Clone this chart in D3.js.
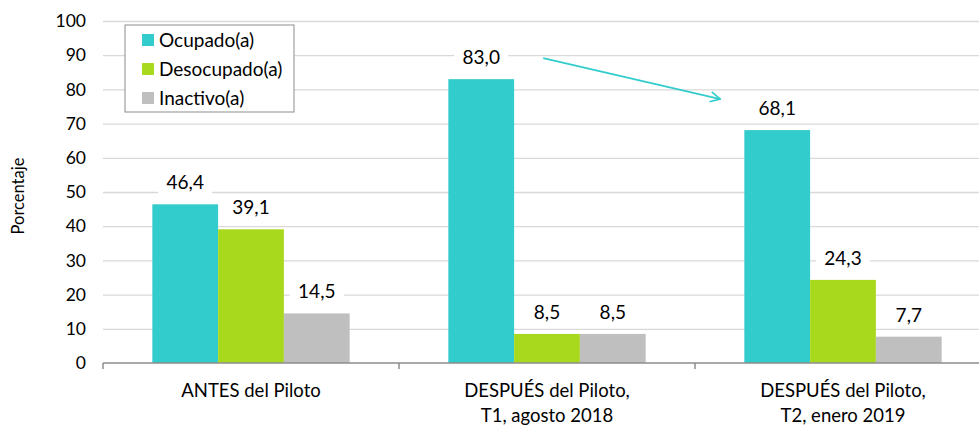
<!DOCTYPE html>
<html lang="es">
<head>
<meta charset="UTF-8">
<title>Situación laboral antes y después del Piloto</title>
<script src="https://d3js.org/d3.v7.min.js"></script>
<style>
  body { margin: 0; padding: 0; background: #fff; font-family: Lato, 'Open Sans', sans-serif; }
  svg { display: block; }
  .grid line { stroke: #d9d9d9; stroke-width: 1.3; }
  .grid .domain { display: none; }
  .axis text { fill: #000; font-size: 17.5px; }
</style>
</head>
<body>
<script>
  const categories = [
    ["ANTES del Piloto"],
    ["DESPUÉS del Piloto,", "T1, agosto 2018"],
    ["DESPUÉS del Piloto,", "T2, enero 2019"]
  ];
  const seriesNames = ["Ocupado(a)", "Desocupado(a)", "Inactivo(a)"];
  const ocupado = [46.4, 83.0, 68.1];
  const desocupado = [39.1, 8.5, 24.3];
  const inactivo = [14.5, 8.5, 7.7];
  const yTicks = [0, 10, 20, 30, 40, 50, 60, 70, 80, 90, 100];
  const colors = ["#33cccc", "#a8d91c", "#bfbfbf"];

  const W = 979, H = 425;
  const margin = { left: 103, top: 21, bottom: 62 };
  const bandW = 296;
  const plotRight = margin.left + bandW * categories.length;

  const svg = d3.select("body").append("svg").attr("width", W).attr("height", H);

  const x = d3.scaleBand().domain(d3.range(categories.length))
    .range([margin.left, plotRight]).padding(0);
  const y = d3.scaleLinear().domain([0, 100]).range([H - margin.bottom, margin.top]);

  // gridlines
  svg.append("g").attr("class", "grid")
    .attr("transform", `translate(${margin.left},0)`)
    .call(d3.axisLeft(y).tickValues(yTicks.slice(1)).tickSize(-(W - margin.left)).tickFormat(""));

  // y tick labels
  svg.append("g").attr("class", "axis")
    .selectAll("text").data(yTicks).join("text")
    .attr("x", 86).attr("y", d => y(d)).attr("dy", "0.35em")
    .attr("text-anchor", "end").text(d => d);

  const values = [ocupado, desocupado, inactivo];
  const rows = [];
  categories.forEach((c, i) => values.forEach((v, s) => rows.push({ cat: i, s, v: v[i] })));

  const bw = bandW / 4.5; // 3 bars, gap 150%
  const barX = d => x(d.cat) + bandW / 2 - 1.5 * bw + d.s * bw;

  svg.append("g").selectAll("rect").data(rows).join("rect")
    .attr("x", barX).attr("width", bw)
    .attr("y", d => y(d.v)).attr("height", d => y(0) - y(d.v))
    .attr("fill", d => colors[d.s]);

  // value labels with white backgrounds
  const fmt = v => v.toFixed(1).replace(".", ",");
  const lab = svg.append("g").selectAll("g").data(rows).join("g")
    .attr("transform", d => `translate(${barX(d) + bw / 2},${y(d.v) - 22})`);
  lab.append("rect").attr("x", -27).attr("y", -13).attr("width", 54).attr("height", 26).attr("fill", "#fff");
  lab.append("text").attr("text-anchor", "middle").attr("dy", "0.36em")
    .style("font-size", "19px").text(d => fmt(d.v));

  // x axis
  const xa = svg.append("g");
  xa.append("line").attr("x1", margin.left).attr("x2", W)
    .attr("y1", y(0)).attr("y2", y(0)).attr("stroke", "#8c8c8c").attr("stroke-width", 1.5);
  xa.selectAll(".tk").data(d3.range(categories.length + 1)).join("line")
    .attr("x1", i => margin.left + i * bandW).attr("x2", i => margin.left + i * bandW)
    .attr("y1", y(0)).attr("y2", y(0) + 6).attr("stroke", "#8c8c8c").attr("stroke-width", 1.5);
  const ct = xa.selectAll(".cl").data(categories).join("text")
    .attr("text-anchor", "middle").style("font-size", "18.5px")
    .attr("transform", (d, i) => `translate(${x(i) + bandW / 2},${y(0) + 34})`);
  ct.selectAll("tspan").data(d => d).join("tspan")
    .attr("x", 0).attr("dy", (d, j) => j === 0 ? 0 : 24.5).text(d => d);

  // y title
  svg.append("text").attr("transform", `translate(24,${(y(0) + y(100)) / 2 + 4}) rotate(-90)`)
    .attr("text-anchor", "middle").style("font-size", "16.5px").text("Porcentaje");

  // legend
  const lg = svg.append("g").attr("transform", "translate(125,25)");
  lg.append("rect").attr("width", 169).attr("height", 87)
    .attr("fill", "#fff").attr("stroke", "#8c8c8c").attr("stroke-width", 1);
  seriesNames.forEach((n, i) => {
    const r = lg.append("g").attr("transform", `translate(17,${15 + i * 29})`);
    r.append("rect").attr("x", 0).attr("y", -6).attr("width", 12).attr("height", 12).attr("fill", colors[i]);
    r.append("text").attr("x", 17).attr("dy", "0.36em").style("font-size", "19px").text(n);
  });

  // arrow between Ocupado T1 and T2
  svg.append("defs").append("marker").attr("id", "ah")
    .attr("viewBox", "0 0 12 12").attr("refX", 11).attr("refY", 6)
    .attr("markerWidth", 12).attr("markerHeight", 12).attr("markerUnits", "userSpaceOnUse")
    .attr("orient", "auto")
    .append("path").attr("d", "M1,1 L11,6 L1,11").attr("fill", "none")
    .attr("stroke", colors[0]).attr("stroke-width", 1.6);
  const a0 = rows[3], a1 = rows[6];
  svg.append("line")
    .attr("x1", barX(a0) + bw / 2 + 62).attr("y1", y(a0.v) - 21)
    .attr("x2", barX(a1) - 24).attr("y2", y(a1.v) - 31)
    .attr("stroke", colors[0]).attr("stroke-width", 1.6).attr("marker-end", "url(#ah)");
</script>
</body>
</html>
